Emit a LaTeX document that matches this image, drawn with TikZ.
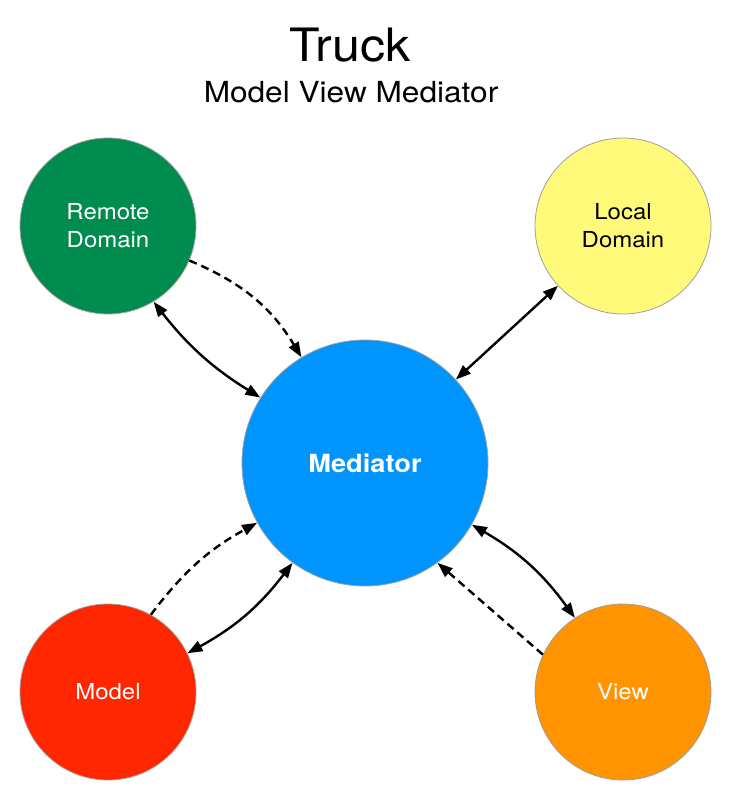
\documentclass[tikz,border=0pt]{standalone}
\usepackage{fontspec}
\setmainfont{TeX Gyre Heros}[FakeStretch=1.09]
\usetikzlibrary{arrows.meta}

\definecolor{moss}{RGB}{0,140,78}
\definecolor{banana}{RGB}{255,250,121}
\definecolor{aqua}{RGB}{0,148,255}
\definecolor{cayenne}{RGB}{255,38,0}
\definecolor{tangerine}{RGB}{255,147,0}

\tikzset{
  actor/.style={circle, draw=gray!75, line width=0.8pt, minimum size=176pt,
    inner sep=0pt, align=center, text=white,
    font=\fontsize{22}{28}\selectfont},
  link/.style={line width=2.4pt, -{Triangle[length=15pt,width=11pt]}},
  both/.style={line width=2.4pt, {Triangle[length=15pt,width=11pt]}-{Triangle[length=15pt,width=11pt]}},
  dsh/.style={dash pattern=on 8pt off 5pt}
}

\begin{document}
\begin{tikzpicture}[x=1pt,y=1pt]
  \useasboundingbox (0,0) rectangle (735,-799);

  % titles
  \node[anchor=base] (title) at (350,-62) {\fontsize{46}{46}\selectfont Truck};
  \node[anchor=base] (subtitle) at (351,-103) {\fontsize{29}{29}\selectfont Model View Mediator};

  % circles
  \node[actor, fill=moss] (remote) at (108,-226) {Remote\\Domain};
  \node[actor, fill=banana, text=black] (local) at (623,-226) {Local\\Domain};
  \node[actor, fill=aqua, minimum size=246pt, font=\fontsize{25}{30}\selectfont\bfseries] (med) at (365,-463) {Mediator};
  \node[actor, fill=cayenne] (model) at (108,-692) {Model};
  \node[actor, fill=tangerine] (view) at (623,-692) {View};

  % connectors
  \draw[both] (remote.-59) to[bend right=10] (med.148);
  \draw[link, dsh] (remote.-23) to[bend left=18] (med.121);
  \draw[both] (med) -- (local);
  \draw[link, dsh] (model.61) to[bend left=12] (med.-151);
  \draw[both] (model.26) to[bend right=12] (med.-126);
  \draw[both] (med.-30) to[bend left=12] (view.123);
  \draw[link, dsh] (view.155) -- (med.-54);
\end{tikzpicture}
\end{document}
